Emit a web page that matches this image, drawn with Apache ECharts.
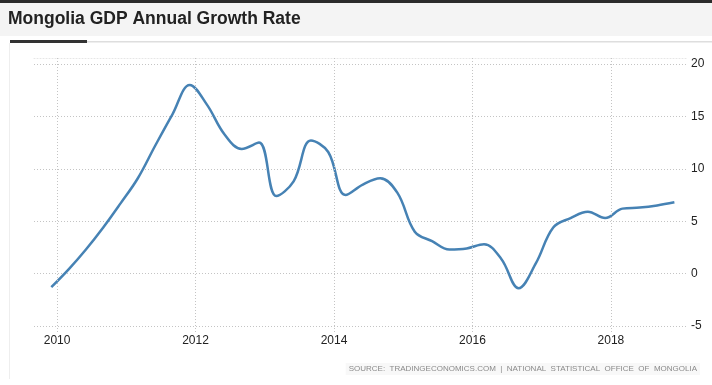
<!DOCTYPE html>
<html><head><meta charset="utf-8">
<script src="https://cdn.jsdelivr.net/npm/echarts@6/dist/echarts.min.js"></script>
<style>html,body{margin:0;padding:0;background:#fff}#c{width:712px;height:385px}</style>
</head><body><div id="c"></div>
<script>
const titleText = 'Mongolia GDP Annual Growth Rate';
const sourceText = 'SOURCE:  TRADINGECONOMICS.COM  |  NATIONAL  STATISTICAL  OFFICE  OF  MONGOLIA';
const quarters = ['2009-12','2010-03','2010-06','2010-09','2010-12','2011-03','2011-06','2011-09','2011-12',
  '2012-03','2012-06','2012-09','2012-12','2013-03','2013-06','2013-09','2013-12',
  '2014-03','2014-06','2014-09','2014-12','2015-03','2015-06','2015-09','2015-12',
  '2016-03','2016-06','2016-09','2016-12','2017-03','2017-06','2017-09','2017-12',
  '2018-03','2018-06','2018-09','2018-12'];
const growth = [-1.3, 0.4, 2.3, 4.4, 6.7, 9.1, 12.2, 15.2, 18.0,
  16.1, 13.3, 11.9, 12.5, 7.4, 8.8, 12.7, 11.6,
  7.5, 8.5, 9.1, 7.7, 4.0, 3.1, 2.3, 2.4,
  2.8, 1.4, -1.4, 1.0, 4.4, 5.3, 5.9, 5.3,
  6.2, 6.3, 6.5, 6.8];
const yearTicks = [2010, 2012, 2014, 2016, 2018];
const yMin = -5, yMax = 20, yStep = 5;

// month index since Jan 2000
function monthIndex(s){ const p = s.split('-'); return (+p[0]-2000)*12 + (+p[1]-1); }
function yearToIndex(y){ return (y-2000)*12; }
const xMin = 116, xMax = 229.36;

const chart = echarts.init(document.getElementById('c'), null, {renderer:'canvas'});
const font = 'Liberation Sans, Arial, sans-serif';
const gridColor = '#c4c4c4';
chart.setOption({
  animation: false,
  backgroundColor: '#fff',
  textStyle: {fontFamily: font},
  grid: [
    {left: 34, right: 24, top: 64, bottom: 59, containLabel: false},
    {left: 34, right: 24, top: 58, bottom: 53, containLabel: false}
  ],
  xAxis: [
    {type: 'value', gridIndex: 0, min: xMin, max: xMax, interval: 4,
     axisLine: {show: false}, axisTick: {show: false}, splitLine: {show: false},
     axisLabel: {show: true, margin: 9, color: '#222', fontSize: 12, fontFamily: font,
       showMinLabel: true, showMaxLabel: false,
       formatter: function(v){ return yearTicks.indexOf(2000 + v/12) >= 0 ? String(2000 + v/12) : ''; }}},
    {type: 'value', gridIndex: 1, min: xMin, max: xMax, position: 'top',
     axisLine: {show: true, onZero: false, lineStyle: {color: '#e6e6e6', width: 1, type: [1,2]}},
     axisTick: {show: false}, axisLabel: {show: false}, splitLine: {show: false}}
  ],
  yAxis: [
    {type: 'value', gridIndex: 0, position: 'right', min: yMin, max: yMax, interval: yStep,
     axisLine: {show: false}, axisTick: {show: false},
     axisLabel: {margin: 3, color: '#222', fontSize: 12, fontFamily: font},
     splitLine: {show: true, lineStyle: {color: gridColor, width: 1, type: [1,2]}}},
    {type: 'value', gridIndex: 1, min: 0, max: 1, show: false}
  ],
  series: [
    {type: 'line', xAxisIndex: 0, yAxisIndex: 0, smooth: 0.38, symbol: 'none', clip: false,
     lineStyle: {color: '#4682b4', width: 2.5},
     data: quarters.map((q, i) => [monthIndex(q), growth[i]])},
    {type: 'line', xAxisIndex: 1, yAxisIndex: 1, symbol: 'none', data: [],
     markLine: {silent: true, symbol: 'none', label: {show: false},
       lineStyle: {color: gridColor, width: 1, type: [1,2]},
       data: yearTicks.map(y => ({xAxis: yearToIndex(y)}))}}
  ],
  graphic: [
    {type: 'rect', shape: {x: 0, y: 0, width: 712, height: 3}, style: {fill: '#2b2b2b'}, silent: true},
    {type: 'rect', shape: {x: 0, y: 3, width: 712, height: 33}, style: {fill: '#f4f4f4'}, silent: true},
    {type: 'text', left: 8, top: 10, style: {text: titleText, fill: '#222', font: 'bold 17.5px ' + font}},
    {type: 'rect', shape: {x: 10, y: 41, width: 702, height: 1.5}, style: {fill: '#dedede'}, silent: true},
    {type: 'rect', shape: {x: 10, y: 40, width: 77, height: 3}, style: {fill: '#333'}, silent: true},
    {type: 'rect', shape: {x: 9, y: 43, width: 1, height: 336}, style: {fill: '#eeeeee'}, silent: true},
    {type: 'text', right: 12, top: 363, style: {text: sourceText, fill: '#8a8a8a', font: '8px ' + font,
      backgroundColor: '#f8f8f8', padding: [2, 3]}}
  ]
});
</script></body></html>
